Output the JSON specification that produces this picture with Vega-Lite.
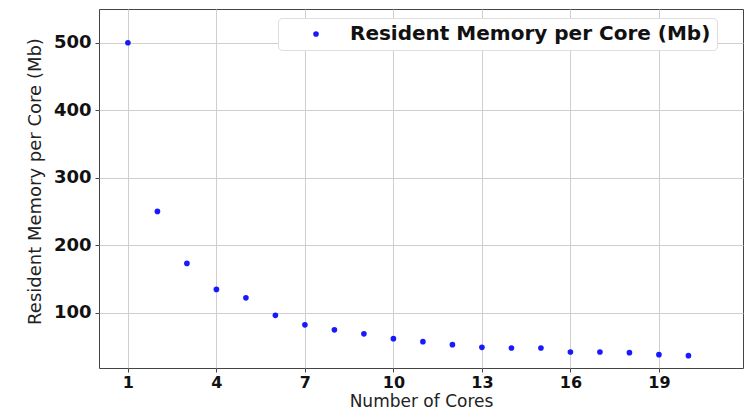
{
  "$schema": "https://vega.github.io/schema/vega-lite/v6.json",
  "width": 644,
  "height": 359,
  "autosize": "none",
  "padding": {"left": 99, "top": 9, "right": 5, "bottom": 42},
  "background": "white",
  "config": {
    "view": {"stroke": "#444444", "strokeWidth": 1},
    "font": "DejaVu Sans"
  },
  "data": {
    "values": [
      {"cores": 1, "mem": 500, "series": "Resident Memory per Core (Mb)"},
      {"cores": 2, "mem": 250, "series": "Resident Memory per Core (Mb)"},
      {"cores": 3, "mem": 173, "series": "Resident Memory per Core (Mb)"},
      {"cores": 4, "mem": 134.5, "series": "Resident Memory per Core (Mb)"},
      {"cores": 5, "mem": 122, "series": "Resident Memory per Core (Mb)"},
      {"cores": 6, "mem": 96, "series": "Resident Memory per Core (Mb)"},
      {"cores": 7, "mem": 82, "series": "Resident Memory per Core (Mb)"},
      {"cores": 8, "mem": 74.5, "series": "Resident Memory per Core (Mb)"},
      {"cores": 9, "mem": 68.6, "series": "Resident Memory per Core (Mb)"},
      {"cores": 10, "mem": 61.5, "series": "Resident Memory per Core (Mb)"},
      {"cores": 11, "mem": 57, "series": "Resident Memory per Core (Mb)"},
      {"cores": 12, "mem": 52.6, "series": "Resident Memory per Core (Mb)"},
      {"cores": 13, "mem": 48.6, "series": "Resident Memory per Core (Mb)"},
      {"cores": 14, "mem": 47.6, "series": "Resident Memory per Core (Mb)"},
      {"cores": 15, "mem": 47.6, "series": "Resident Memory per Core (Mb)"},
      {"cores": 16, "mem": 41.7, "series": "Resident Memory per Core (Mb)"},
      {"cores": 17, "mem": 41.7, "series": "Resident Memory per Core (Mb)"},
      {"cores": 18, "mem": 40.7, "series": "Resident Memory per Core (Mb)"},
      {"cores": 19, "mem": 37.8, "series": "Resident Memory per Core (Mb)"},
      {"cores": 20, "mem": 36.3, "series": "Resident Memory per Core (Mb)"}
    ]
  },
  "mark": {"type": "point", "filled": true, "size": 32, "opacity": 0.9},
  "encoding": {
    "x": {
      "field": "cores",
      "type": "quantitative",
      "scale": {"domain": [0.02, 21.85], "nice": false, "zero": false},
      "axis": {
        "title": "Number of Cores",
        "values": [1, 4, 7, 10, 13, 16, 19],
        "grid": true,
        "gridColor": "#cfcfcf",
        "gridWidth": 1,
        "domain": false,
        "tickSize": 4,
        "tickColor": "#444444",
        "labelFont": "DejaVu Sans",
        "labelFontWeight": "bold",
        "labelFontSize": 16,
        "labelColor": "#111111",
        "labelPadding": 2,
        "titleFont": "DejaVu Sans",
        "titleFontWeight": "normal",
        "titleFontSize": 17,
        "titleColor": "#222222",
        "titleBaseline": "middle",
        "titleY": 33
      }
    },
    "y": {
      "field": "mem",
      "type": "quantitative",
      "scale": {"domain": [18, 550], "nice": false, "zero": false},
      "axis": {
        "title": "Resident Memory per Core (Mb)",
        "values": [100, 200, 300, 400, 500],
        "grid": true,
        "gridColor": "#cfcfcf",
        "gridWidth": 1,
        "domain": false,
        "tickSize": 4,
        "tickColor": "#444444",
        "labelFont": "DejaVu Sans",
        "labelFontWeight": "bold",
        "labelFontSize": 18,
        "labelColor": "#111111",
        "labelPadding": 4,
        "titleFont": "DejaVu Sans",
        "titleFontWeight": "normal",
        "titleFontSize": 18,
        "titleColor": "#222222",
        "titleAngle": -90,
        "titleAlign": "center",
        "titleBaseline": "middle",
        "titleX": -64,
        "titleY": 172
      }
    },
    "color": {
      "field": "series",
      "type": "nominal",
      "scale": {"range": ["#0000ff"]},
      "legend": {
        "title": null,
        "orient": "none",
        "legendX": 179,
        "legendY": 9,
        "fillColor": "white",
        "strokeColor": "#dddddd",
        "cornerRadius": 4,
        "padding": 6,
        "symbolType": "circle",
        "symbolSize": 32,
        "symbolOffset": 22,
        "labelOffset": 24,
        "labelFont": "DejaVu Sans",
        "labelFontWeight": "bold",
        "labelFontSize": 20,
        "labelColor": "#111111",
        "labelLimit": 600
      }
    }
  }
}
